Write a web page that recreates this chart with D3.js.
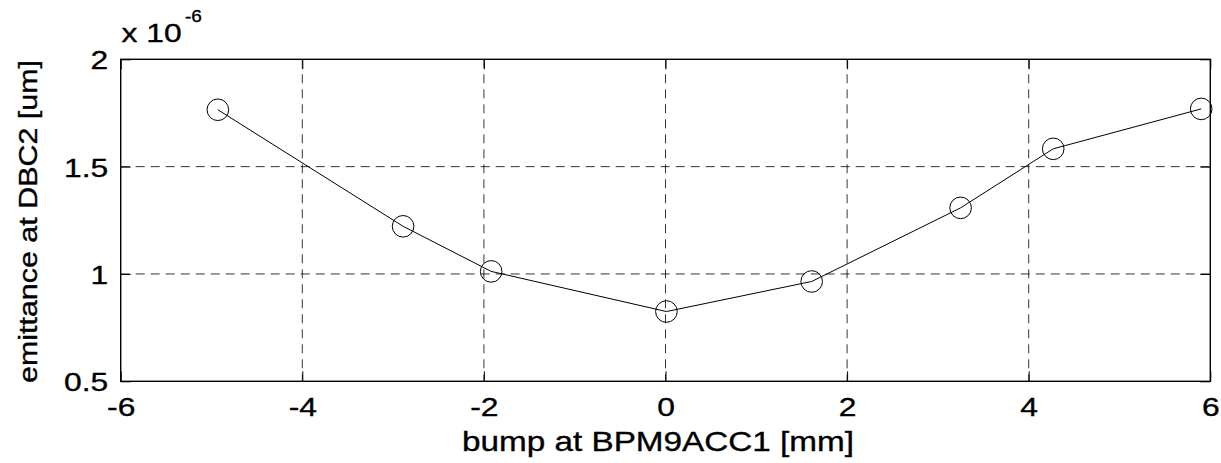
<!DOCTYPE html>
<html>
<head>
<meta charset="utf-8">
<script src="https://cdn.jsdelivr.net/npm/d3@7"></script>
<style>
  html, body { margin: 0; padding: 0; background: #fff; }
  svg { display: block; font-family: "Liberation Sans", Arial, Helvetica, sans-serif; }
  svg text { stroke: #000; stroke-width: 0.35px; }
</style>
</head>
<body>
<svg id="chart" width="1221" height="463"></svg>
<script>
// Measured bump offsets [mm] and emittance at DBC2 (in units of 1e-6 um)
const bump = [-4.93, -2.89, -1.92, 0.01, 1.61, 3.25, 4.27, 5.90];
const emittance = [1.765, 1.222, 1.012, 0.825, 0.965, 1.308, 1.583, 1.769];

const xTicks = [-6, -4, -2, 0, 2, 4, 6];
const yTicks = [0.5, 1, 1.5, 2];
const xLabel = "bump at BPM9ACC1 [mm]";
const yLabel = "emittance at DBC2 [um]";

const svg = d3.select("#chart");
const plotL = 120.7, plotR = 1210.3, plotT = 59.3, plotB = 381.3;
const FONT = "'Liberation Sans', Arial, sans-serif";

const x = d3.scaleLinear().domain([-6, 6]).range([plotL, plotR]);
const y = d3.scaleLinear().domain([0.5, 2]).range([plotB, plotT]);

// the lettering is set a little wider than the regular face
function widen(sel, k) {
  sel.each(function () {
    const w = this.getComputedTextLength();
    d3.select(this).attr("textLength", w * k).attr("lengthAdjust", "spacingAndGlyphs");
  });
}

// dashed grid
const grid = svg.append("g").attr("stroke", "#000").attr("stroke-width", 0.8)
  .attr("stroke-dasharray", "9,6");
grid.selectAll("line.gx").data(xTicks.slice(1, -1)).join("line")
  .attr("x1", d => x(d)).attr("x2", d => x(d))
  .attr("y1", plotT).attr("y2", plotB);
grid.selectAll("line.gy").data(yTicks.slice(1, -1)).join("line")
  .attr("x1", plotL).attr("x2", plotR)
  .attr("y1", d => y(d)).attr("y2", d => y(d));

// axes with inward ticks on all four sides
const tickLen = 10;
const axB = svg.append("g").attr("transform", `translate(0,${plotB})`)
  .call(d3.axisBottom(x).tickValues(xTicks).tickSize(-tickLen).tickPadding(16).tickFormat(d => String(d)));
const axT = svg.append("g").attr("transform", `translate(0,${plotT})`)
  .call(d3.axisTop(x).tickValues(xTicks).tickSize(-tickLen).tickFormat(""));
const axL = svg.append("g").attr("transform", `translate(${plotL},0)`)
  .call(d3.axisLeft(y).tickValues(yTicks).tickSize(-tickLen).tickPadding(12.4).tickFormat(d => String(d)));
const axR = svg.append("g").attr("transform", `translate(${plotR},0)`)
  .call(d3.axisRight(y).tickValues(yTicks).tickSize(-tickLen).tickFormat(""));

[axB, axT, axL, axR].forEach(g => {
  g.select(".domain").remove();
  g.selectAll(".tick line").attr("stroke", "#000").attr("stroke-width", 1);
  g.selectAll("text").attr("fill", "#000").attr("font-size", 26.5).attr("font-family", FONT);
});
axB.selectAll(".tick text").attr("dy", "0.71em");
axL.selectAll(".tick text").attr("dy", "0.36em");
widen(axB.selectAll(".tick text"), 1.2);
widen(axL.selectAll(".tick text"), 1.2);

// box
svg.append("rect").attr("x", plotL).attr("y", plotT)
  .attr("width", plotR - plotL).attr("height", plotB - plotT)
  .attr("fill", "none").attr("stroke", "#000").attr("stroke-width", 1.4);

// data line and circle markers
const pts = bump.map((b, i) => [b, emittance[i]]);
svg.append("path").datum(pts)
  .attr("fill", "none").attr("stroke", "#000").attr("stroke-width", 1)
  .attr("d", d3.line().x(d => x(d[0])).y(d => y(d[1])));
svg.append("g").selectAll("circle").data(pts).join("circle")
  .attr("cx", d => x(d[0])).attr("cy", d => y(d[1])).attr("r", 10.8)
  .attr("fill", "none").attr("stroke", "#000").attr("stroke-width", 1);

// axis labels
svg.append("text").attr("x", 658).attr("y", 451)
  .attr("text-anchor", "middle").attr("font-size", 28.5)
  .attr("textLength", 392).attr("lengthAdjust", "spacingAndGlyphs")
  .text(xLabel);
svg.append("text")
  .attr("transform", "translate(36.5,221.5) rotate(-90)")
  .attr("text-anchor", "middle").attr("font-size", 26.5)
  .attr("textLength", 323).attr("lengthAdjust", "spacingAndGlyphs")
  .text(yLabel);

// exponent annotation
const base = svg.append("text").attr("x", 121.5).attr("y", 41.7).attr("font-size", 26.5).text("x 10");
widen(base, 1.2);
const sup = svg.append("text").attr("x", 185).attr("y", 21.7).attr("font-size", 16.5).text("-6");
widen(sup, 1.15);
</script>
</body>
</html>
